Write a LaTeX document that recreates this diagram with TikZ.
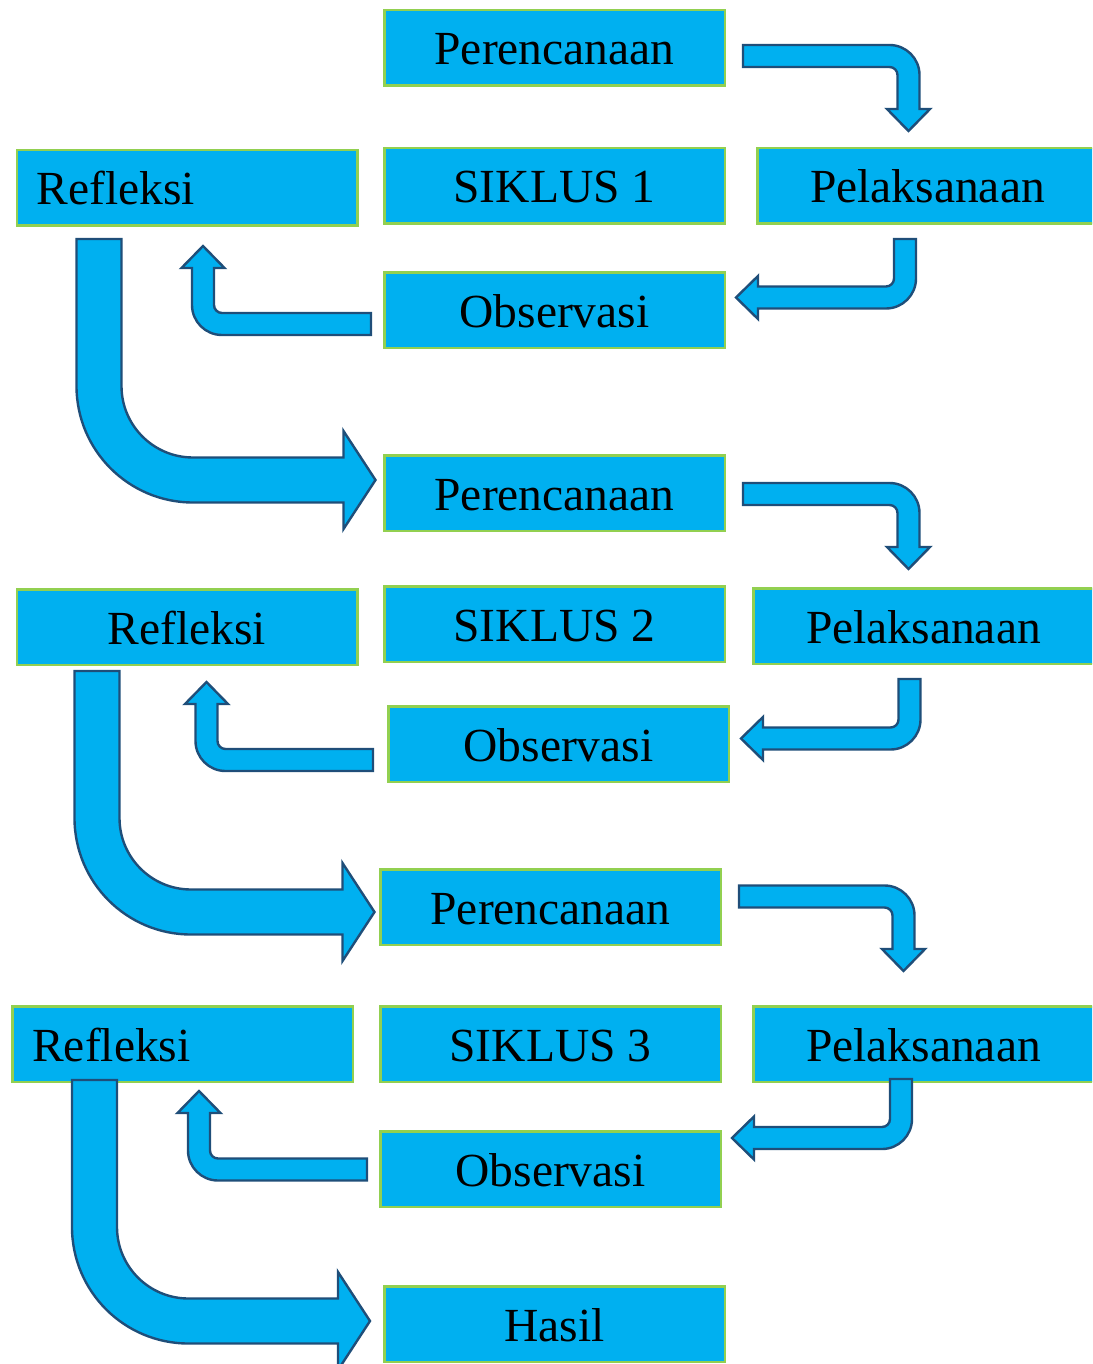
\documentclass[tikz,border=0pt]{standalone}
\usepackage{fontspec}
\setmainfont{Liberation Serif}
\usetikzlibrary{calc}

\definecolor{boxfill}{HTML}{00B0F0}
\definecolor{boxline}{HTML}{92D050}
\definecolor{arrowline}{HTML}{1F4E79}

% bent block arrow: #1 placement, #2 first leg, #3 second leg,
% #4 half shaft, #5 bend radius, #6 half head, #7 head length
\newcommand{\bentarrow}[7]{%
  \filldraw[blockarrow,#1] (0,-#4) -- ({#2-#5},-#4)
    arc[start angle=-90,end angle=0,radius={#5+#4}] -- ({#2+#4},#3)
    -- ({#2+#6},#3) -- (#2,{#3+#7}) -- ({#2-#6},#3) -- ({#2-#4},#3)
    -- ({#2-#4},#5) arc[start angle=0,end angle=-90,radius={#5-#4}]
    -- (0,#4) -- cycle;}
\newcommand{\smallbent}[3]{\bentarrow{#1}{#2}{#3}{11}{19}{21.5}{22}}
\newcommand{\bigbent}[3]{\bentarrow{#1}{#2}{#3}{22.5}{94}{49}{32}}

\begin{document}
\begin{tikzpicture}[x=1pt, y=-1pt,
  box/.style={draw=boxline, fill=boxfill, line width=2.5pt,
    minimum width=340.5pt, minimum height=75.5pt, inner sep=0pt,
    text height=34pt, text depth=0pt, font=\fontsize{47.5}{57}\selectfont},
  leftbox/.style={box, text width=300.5pt, align=left, inner xsep=20pt},
  blockarrow/.style={fill=boxfill, draw=arrowline, line width=2.4pt}]
  \useasboundingbox (0,0) rectangle (1092,1364);
  \clip (0,0) rectangle (1092,1364);

  % Siklus 1
  \node[box] (per1) at (554.5,48) {Perencanaan};
  \node[box] (sik1) at (554.5,186) {SIKLUS 1};
  \node[leftbox] (ref1) at (187,188) {Refleksi};
  \node[box] (pel1) at (927.5,186) {Pelaksanaan};
  \node[box] (obs1) at (554.5,310) {Observasi};

  % Siklus 2
  \node[box] (per2) at (554.5,493) {Perencanaan};
  \node[box] (sik2) at (554.5,624) {SIKLUS 2};
  \node[box] (ref2) at (187,627) {Refleksi};
  \node[box] (pel2) at (923.5,626) {Pelaksanaan};
  \node[box] (obs2) at (558.5,744) {Observasi};

  % Siklus 3
  \node[box] (per3) at (550.5,907) {Perencanaan};
  \node[box] (sik3) at (550.5,1044) {SIKLUS 3};
  \node[leftbox] (ref3) at (182.5,1044) {Refleksi};
  \node[box] (pel3) at (923.5,1044) {Pelaksanaan};
  \node[box] (obs3) at (550.5,1169) {Observasi};

  \node[box] (hasil) at (554.5,1324) {Hasil};

  % arrows of siklus 1
  \smallbent{shift={($(per1.east)+(17,8)$)}}{165.5}{53}
  \smallbent{shift={($(pel1.south west)+(149,14)$)}, rotate=-90}{58.5}{147}
  \smallbent{shift={($(obs1.west)+(-12,14)$)}, rotate=180}{168}{56}
  \bigbent{shift={($(ref1.south west)+(83.5,12)$)}, rotate=-90, yscale=-1}{241}{244.5}

  % arrows of siklus 2
  \smallbent{shift={($(per2.east)+(17,1)$)}}{165.5}{53}
  \smallbent{shift={($(pel2.south west)+(157.5,14)$)}, rotate=-90}{59.5}{146.5}
  \smallbent{shift={($(obs2.west)+(-14,16)$)}, rotate=180}{166.5}{56}
  \bigbent{shift={($(ref2.south west)+(81.5,5)$)}, rotate=-90, yscale=-1}{241}{245.5}

  % arrows of siklus 3
  \smallbent{shift={($(per3.east)+(17,-10.5)$)}}{164.5}{52.5}
  \smallbent{shift={($(pel3.south west)+(149,-4)$)}, rotate=-90}{59}{147}
  \smallbent{shift={($(obs3.west)+(-12,0.5)$)}, rotate=180}{168}{56.5}
  \bigbent{shift={($(ref3.south west)+(83.5,-3)$)}, rotate=-90, yscale=-1}{241}{243.5}
\end{tikzpicture}
\end{document}
